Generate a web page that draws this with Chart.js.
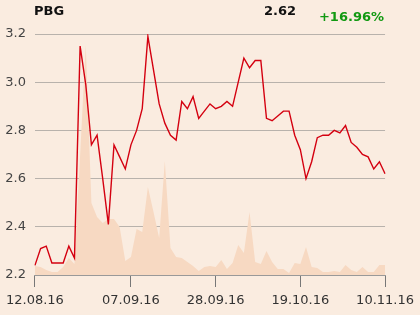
<!DOCTYPE html>
<html>
<head>
<meta charset="utf-8">
<script src="https://cdn.jsdelivr.net/npm/chart.js@4/dist/chart.umd.min.js"></script>
<style>
  html, body { margin: 0; padding: 0; background: #faece0; }
  #wrap { position: relative; width: 420px; height: 315px; overflow: hidden; }
  canvas { position: absolute; left: 0; top: 0; }
  .hdr { position: absolute; font-family: "DejaVu Sans", sans-serif; font-weight: bold; font-size: 13px; line-height: 1; white-space: nowrap; }
  #name { left: 34px; top: 4px; color: #111; }
  #last { right: 124px; top: 4px; color: #111; }
  #chg { right: 36px; top: 10px; color: #119911; }
</style>
</head>
<body>
<div id="wrap">
  <canvas id="chart" width="420" height="315"></canvas>
  <div class="hdr" id="name">PBG</div>
  <div class="hdr" id="last">2.62</div>
  <div class="hdr" id="chg">+16.96%</div>
</div>
<script>
// ====== DATA ======
// trading days 12.08.16 .. 10.11.16 (63 sessions), only some are labelled
const dates = [
  '12.08.16', '16.08.16', '17.08.16', '18.08.16', '19.08.16', '22.08.16', '23.08.16', '24.08.16',
  '25.08.16', '26.08.16', '29.08.16', '30.08.16', '31.08.16', '01.09.16', '02.09.16', '05.09.16',
  '06.09.16', '07.09.16', '08.09.16', '09.09.16', '12.09.16', '13.09.16', '14.09.16', '15.09.16',
  '16.09.16', '19.09.16', '20.09.16', '21.09.16', '22.09.16', '23.09.16', '26.09.16', '27.09.16',
  '28.09.16', '29.09.16', '30.09.16', '03.10.16', '04.10.16', '05.10.16', '06.10.16', '07.10.16',
  '10.10.16', '11.10.16', '12.10.16', '13.10.16', '14.10.16', '17.10.16', '18.10.16', '19.10.16',
  '20.10.16', '21.10.16', '24.10.16', '25.10.16', '26.10.16', '27.10.16', '28.10.16', '31.10.16',
  '02.11.16', '03.11.16', '04.11.16', '07.11.16', '08.11.16', '09.11.16', '10.11.16'
];
const tickDates = ['12.08.16', '07.09.16', '28.09.16', '19.10.16', '10.11.16'];

const closePrices = [
  2.24, 2.31, 2.32, 2.25, 2.25, 2.25, 2.32, 2.27, 3.15, 2.99,
  2.74, 2.78, 2.60, 2.41, 2.74, 2.69, 2.64, 2.74, 2.80, 2.89,
  3.19, 3.05, 2.91, 2.83, 2.78, 2.76, 2.92, 2.89, 2.94, 2.85,
  2.88, 2.91, 2.89, 2.90, 2.92, 2.90, 3.00, 3.10, 3.06, 3.09,
  3.09, 2.85, 2.84, 2.86, 2.88, 2.88, 2.78, 2.72, 2.60, 2.67,
  2.77, 2.78, 2.78, 2.80, 2.79, 2.82, 2.75, 2.73, 2.70, 2.69,
  2.64, 2.67, 2.62
];

// volume (relative units, estimated from the shaded area)
const volumes = [
  9, 8, 5, 3, 3, 8, 17, 11, 120, 230,
  72, 58, 52, 56, 56, 48, 14, 18, 46, 43,
  88, 63, 37, 114, 27, 18, 17, 13, 9, 4,
  8, 9, 8, 15, 6, 12, 30, 22, 63, 13,
  11, 24, 13, 6, 6, 2, 12, 11, 28, 8,
  7, 3, 3, 4, 3, 10, 5, 3, 8, 3,
  3, 10, 10
];
const volumeMax = 241;

const priceMin = 2.2;
const priceMax = 3.2;
const priceStep = 0.2;

// ====== CHART ======
const ctx = document.getElementById('chart');

const chartInstance = new Chart(ctx, {
    type: 'line',
    data: {
        labels: dates,
        datasets: [
            {
                label: 'PBG',
                data: closePrices,
                yAxisID: 'y',
                borderColor: '#d40010',
                borderWidth: 1.4,
                pointRadius: 0,
                tension: 0,
                fill: false,
                order: 1
            },
            {
                label: 'Volume',
                data: volumes,
                yAxisID: 'vol',
                borderWidth: 0,
                borderColor: 'rgba(0,0,0,0)',
                backgroundColor: '#f7d9c2',
                pointRadius: 0,
                tension: 0,
                fill: 'origin',
                order: 2
            }
        ]
    },
    options: {
        responsive: false,
        animation: false,
        layout: { padding: { top: 34, right: 34, left: 0, bottom: 0 } },
        plugins: {
            legend: { display: false },
            tooltip: { enabled: false }
        },
        scales: {
            x: {
                offset: false,
                grid: {
                    drawOnChartArea: false,
                    drawTicks: true,
                    tickLength: 12,
                    color: '#777777'
                },
                border: { display: true, color: '#999999', width: 1 },
                ticks: {
                    autoSkip: false,
                    maxRotation: 0,
                    padding: 6,
                    color: '#333333',
                    font: { family: 'DejaVu Sans', size: 13 },
                    callback: function(value, index) {
                        const d = dates[index];
                        return tickDates.includes(d) ? d : null;
                    }
                },
                afterFit: function(scale) { scale.height = 40; }
            },
            y: {
                position: 'left',
                min: priceMin,
                max: priceMax,
                grid: {
                    drawTicks: false,
                    color: '#b8b2ac',
                    lineWidth: 1
                },
                border: { display: false },
                ticks: {
                    stepSize: priceStep,
                    padding: 9,
                    color: '#444444',
                    font: { family: 'DejaVu Sans', size: 13 },
                    callback: function(value) { return Number(value).toFixed(1); }
                },
                afterFit: function(scale) { scale.width = 34; }
            },
            vol: {
                display: false,
                min: 0,
                max: volumeMax
            }
        }
    }
});
</script>
</body>
</html>
